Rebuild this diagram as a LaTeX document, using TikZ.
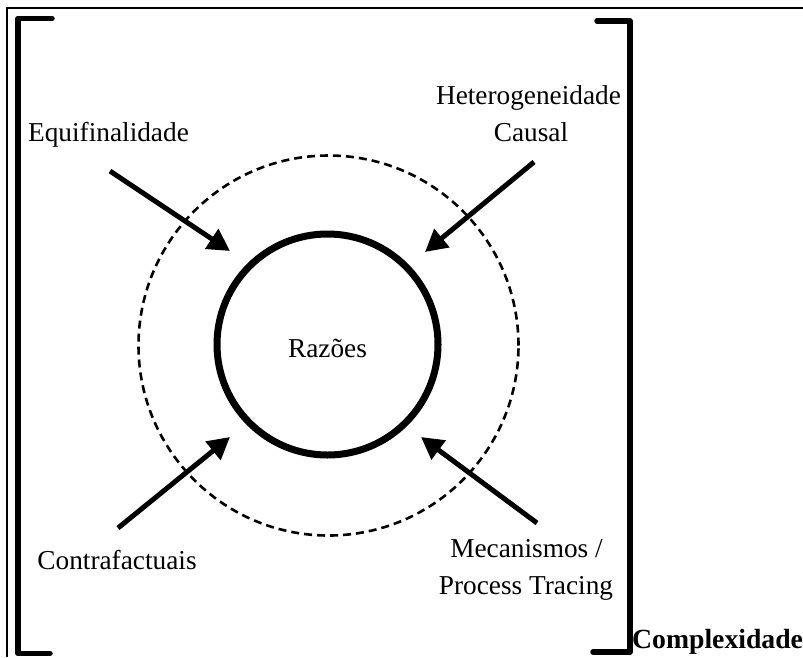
\documentclass[tikz,border=0pt]{standalone}
\usepackage{fontspec}
\setmainfont{Liberation Serif}
\usetikzlibrary{arrows.meta}
\begin{document}
\begin{tikzpicture}[x=1pt,y=-1pt,
  lbl/.style={font=\fontsize{27.3}{37}\selectfont, inner sep=0pt, anchor=base},
  boldlbl/.style={font=\fontsize{27.7}{37}\selectfont\bfseries, inner sep=0pt, anchor=base west},
  bracket/.style={line width=5.5pt, line cap=round, line join=round},
  frameline/.style={line width=1.5pt},
  flow/.style={line width=5pt, -{Triangle[length=22pt,width=23pt]}},
  core/.style={circle, draw, line width=7pt, minimum size=221pt, inner sep=0pt},
  halo/.style={circle, draw, line width=2.6pt, dash pattern=on 8pt off 5pt, minimum size=380pt, inner sep=0pt},
]
\useasboundingbox (0,0) rectangle (803,657);

% outer frame (top and left rules)
\coordinate (fr-tr) at (803,8);
\coordinate (fr-tl) at (7,8);
\coordinate (fr-bl) at (7,657);
\draw[frameline] (fr-tr) -- (fr-tl) -- (fr-bl);

% square brackets
\coordinate (lb-a) at (52,18.5);
\coordinate (lb-b) at (18,18.5);
\coordinate (lb-c) at (18,653.5);
\coordinate (lb-d) at (50,653.5);
\draw[bracket] (lb-a) -- (lb-b) -- (lb-c) -- (lb-d);
\coordinate (rb-a) at (597,21);
\coordinate (rb-b) at (630,21);
\coordinate (rb-c) at (630,652);
\coordinate (rb-d) at (593,652);
\draw[bracket] (rb-a) -- (rb-b) -- (rb-c) -- (rb-d);

% circles
\node[halo] (ring) at (328.5,345.5) {};
\node[core] (razoes) at (327.5,344.5) {};
\node[lbl] (razoes-txt) at (327.5,357) {Razões};

% labels
\node[lbl] (equi) at (108.5,141) {Equifinalidade};
\node[lbl] (hetero1) at (528.5,104) {Heterogeneidade};
\node[lbl] (hetero2) at (531,141) {Causal};
\node[lbl] (contra) at (117,569) {Contrafactuais};
\node[lbl] (meca1) at (526.5,557) {Mecanismos /};
\node[lbl] (meca2) at (526,594) {Process Tracing};
\node[boldlbl] (complex) at (632,648) {Complexidade};

% arrows pointing at the core
\coordinate (equi-tail) at (110,171);
\coordinate (equi-tip) at (230,251);
\coordinate (het-tail) at (534,162);
\coordinate (het-tip) at (425,252);
\coordinate (con-tail) at (118,528);
\coordinate (con-tip) at (230,437);
\coordinate (mec-tail) at (537,523);
\coordinate (mec-tip) at (421,437);
\draw[flow] (equi-tail) -- (equi-tip);
\draw[flow] (het-tail) -- (het-tip);
\draw[flow] (con-tail) -- (con-tip);
\draw[flow] (mec-tail) -- (mec-tip);
\end{tikzpicture}
\end{document}
